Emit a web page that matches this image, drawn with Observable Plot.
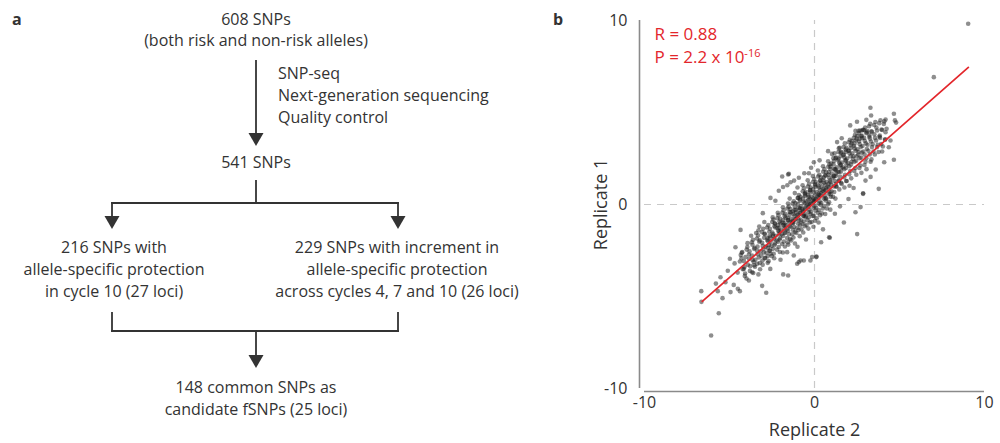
<!DOCTYPE html>
<html>
<head>
<meta charset="utf-8">
<script src="https://cdn.jsdelivr.net/npm/d3@7"></script>
<script src="https://cdn.jsdelivr.net/npm/@observablehq/plot@0.6"></script>
<style>
  html, body { margin: 0; padding: 0; background: #fff; }
  #fig { position: relative; width: 1000px; height: 443px; overflow: hidden; background: #fff; font-family: "Open Sans", sans-serif; color: #333; }
  .panel-label { position: absolute; font-weight: 700; font-size: 16px; color: #333; font-family: "Open Sans", sans-serif; }
  #plotb { position: absolute; left: 560px; top: 0; }
</style>
</head>
<body>
<div id="fig">
  <div class="panel-label" style="left:12px; top:8px;">a</div>
  <div class="panel-label" style="left:553px; top:8px;">b</div>
  <div id="plotb"></div>
</div>
<script>
// ---------- Panel a: flowchart text ----------
const topNode = ["608 SNPs", "(both risk and non-risk alleles)"];
const stepLabels = ["SNP-seq", "Next-generation sequencing", "Quality control"];
const midNode = ["541 SNPs"];
const leftNode = ["216 SNPs with", "allele-specific protection", "in cycle 10 (27 loci)"];
const rightNode = ["229 SNPs with increment in", "allele-specific protection", "across cycles 4, 7 and 10 (26 loci)"];
const bottomNode = ["148 common SNPs as", "candidate fSNPs (25 loci)"];

// ---------- Panel b: data ----------
const xTicks = [-10, 0, 10];
const yTicks = [-10, 0, 10];
const xLabel = "Replicate 2";
const yLabel = "Replicate 1";
const statR = "R = 0.88";
const statP = "P = 2.2 x 10";
const statPExp = "-16";
// regression line end points (Replicate 2, Replicate 1)
const fitX = [-6.6, 9.05];
const fitY = [-5.27, 7.45];
// scatter points [Replicate 2, Replicate 1], read/estimated from the figure
const scatterPoints = [
  [9.04,9.82],[7.02,6.92],[3.29,5.26],[3.33,4.84],[4.67,4.93],[4.73,4.57],[4.8,4.45],[4.08,4.38],[4.18,3.93],[4.47,3.48],
  [4.37,3.11],[4.67,2.43],[3.78,0.85],[2.86,0.61],[3.0,1.3],[2.71,-0.14],[2.41,-0.42],[2.51,-1.61],[1.73,-0.98],[0.9,-1.81],
  [0.39,-2.05],[0.1,-2.86],[-0.24,-3.04],[-0.63,-3.04],[-0.92,-3.13],[-1.02,-3.22],[-1.55,-3.86],[-1.84,-3.8],[-2.84,-4.8],[-3.08,-4.42],
  [-3.86,-4.13],[-4.16,-3.5],[-3.67,-3.68],[-4.06,-2.86],[-4.25,-2.59],[-4.98,-2.95],[-4.65,-2.32],[-4.35,-1.38],[-3.04,-0.47],[-2.59,0.36],
  [-1.9,1.52],[-1.55,1.63],[-1.51,1.67],[-1.41,1.21],[-0.92,1.45],[-0.04,2.3],[-0.33,1.7],[1.33,3.39],[2.41,4.0],[2.59,4.0],
  [2.8,4.02],[3.1,3.99],[2.86,4.06],[3.84,3.75],[-6.66,-4.71],[-6.65,-5.29],[-5.63,-5.91],[-6.08,-7.12],[-5.41,-5.09],[-5.69,-4.71],
  [-5.53,-3.95],[-5.24,-4.22],[-4.94,-4.76],[-4.75,-4.37],[-4.51,-4.58],[-4.39,-4.71],[-3.37,-3.22],[-2.75,-3.17],[-2.59,-2.68],[-1.61,-2.59],
  [-1.22,-2.77],[-0.82,-3.04],[0.12,-2.83],[-0.14,-2.86],[0.86,-1.78],[2.86,0.58],
  [-2.1,0.75],[-1.85,0.95],[-1.6,1.05],[-2.3,0.2],[-1.2,1.3],[-0.6,1.7],[-0.2,2.0],[0.3,2.4],[0.8,2.9],[1.6,3.6],[2.1,4.3],[2.5,4.5],[3.05,4.6],
  [0.5,-1.35],[1.2,-0.5],[1.5,-0.1],[2.0,0.3],[2.3,0.9],[3.3,1.5],[3.6,1.9],[4.1,2.3],[-0.5,-1.9],[-1.0,-2.3],[-2.0,-3.0],[-2.6,-3.5],[-3.3,-3.8],[-4.7,-3.2],[-5.1,-3.6],[-5.8,-4.3],
  [-4.28,-2.62],[-4.15,-3.08],[-4.22,-3.52],[-4.1,-3.88],[-4.3,-2.93],
  [-3.95,-2.31],[-3.86,-2.72],[-3.92,-3.27],[-3.8,-3.61],[-4.0,-4.02],[-3.85,-2.95],
  [-3.62,-1.92],[-3.55,-2.41],[-3.68,-2.78],[-3.58,-3.12],[-3.5,-3.38],[-3.65,-2.19],[-3.6,-3.72],
  [-3.32,-1.68],[-3.25,-2.02],[-3.38,-2.51],[-3.28,-2.88],[-3.22,-3.18],[-3.35,-2.29],[-3.3,-1.41],[-3.2,-3.52],
  [-3.02,-1.32],[-2.96,-1.81],[-3.08,-2.08],[-2.98,-2.61],[-2.92,-2.92],[-3.05,-3.28],[-3.0,-2.42],[-2.94,-1.58],
  [-2.72,-1.12],[-2.66,-1.48],[-2.78,-1.92],[-2.68,-2.21],[-2.62,-2.52],[-2.75,-2.81],[-2.7,-3.08],[-2.64,-1.71],[-2.74,-2.36],
  [-2.42,-0.82],[-2.36,-1.18],[-2.48,-1.52],[-2.38,-1.88],[-2.32,-2.12],[-2.45,-2.41],[-2.4,-2.68],[-2.34,-1.02],[-2.44,-1.71],[-2.37,-2.92],
  [-2.12,-0.58],[-2.06,-0.92],[-2.18,-1.28],[-2.08,-1.61],[-2.02,-1.82],[-2.15,-2.02],[-2.1,-2.31],[-2.04,-2.58],[-2.14,-1.12],[-2.07,-1.46],
  [-1.82,-0.31],[-1.76,-0.62],[-1.88,-0.98],[-1.78,-1.31],[-1.72,-1.52],[-1.85,-1.71],[-1.8,-2.02],[-1.74,-2.28],[-1.84,-0.84],[-1.77,-1.16],[-1.86,-2.61],
  [-1.52,-0.12],[-1.46,-0.41],[-1.58,-0.72],[-1.48,-0.98],[-1.42,-1.21],[-1.55,-1.42],[-1.5,-1.62],[-1.44,-1.88],[-1.54,-2.18],[-1.47,-0.56],[-1.56,-0.86],
  [-1.22,0.18],[-1.16,-0.12],[-1.28,-0.38],[-1.18,-0.62],[-1.12,-0.81],[-1.25,-1.02],[-1.2,-1.22],[-1.14,-1.48],[-1.24,-1.79],[-1.17,-0.29],[-1.26,-0.96],[-1.15,-2.12],
  [-0.92,0.52],[-0.86,0.21],[-0.98,0.02],[-0.88,-0.28],[-0.82,-0.48],[-0.95,-0.71],[-0.9,-0.88],[-0.84,-1.12],[-0.94,-1.38],[-0.87,-1.72],[-0.96,0.36],[-0.85,-0.19],
  [-0.62,0.88],[-0.56,0.61],[-0.68,0.32],[-0.58,0.08],[-0.52,-0.12],[-0.65,-0.31],[-0.6,-0.52],[-0.54,-0.69],[-0.64,-0.92],[-0.57,-1.18],[-0.66,-1.52],[-0.55,0.46],[-0.63,-0.61],
  [-0.32,1.12],[-0.26,0.78],[-0.38,0.52],[-0.28,0.31],[-0.22,0.08],[-0.35,-0.12],[-0.3,-0.28],[-0.24,-0.52],[-0.34,-0.71],[-0.27,-0.98],[-0.36,-1.31],[-0.25,0.66],[-0.33,0.02],
  [-0.02,1.38],[0.04,1.12],[-0.08,0.82],[0.02,0.48],[0.08,0.28],[-0.05,0.12],[0.0,-0.08],[0.06,-0.32],[-0.04,-0.62],[0.03,-0.88],[-0.06,-1.21],[0.05,0.96],[-0.03,0.21],
  [0.28,1.62],[0.34,1.28],[0.22,1.02],[0.32,0.78],[0.38,0.61],[0.25,0.38],[0.3,0.18],[0.36,-0.02],[0.26,-0.31],[0.33,-0.58],[0.24,-0.98],[0.35,1.16],[0.27,0.52],
  [0.58,1.92],[0.64,1.58],[0.52,1.32],[0.62,1.08],[0.68,0.88],[0.55,0.72],[0.6,0.48],[0.66,0.22],[0.56,-0.08],[0.63,-0.52],[0.54,1.46],[0.65,0.34],
  [0.88,2.18],[0.94,1.92],[0.82,1.62],[0.92,1.31],[0.98,1.08],[0.85,0.92],[0.9,0.68],[0.96,0.42],[0.86,0.12],[0.93,-0.28],[0.84,1.76],[0.95,0.56],
  [1.18,2.78],[1.24,2.52],[1.12,2.18],[1.22,1.92],[1.28,1.68],[1.15,1.52],[1.2,1.28],[1.26,0.98],[1.16,0.68],[1.23,0.32],[1.14,2.36],[1.25,1.12],
  [1.48,3.08],[1.54,2.82],[1.42,2.48],[1.52,2.18],[1.58,1.98],[1.45,1.78],[1.5,1.52],[1.56,1.18],[1.46,0.82],[1.53,2.62],[1.44,1.32],
  [1.78,3.32],[1.84,2.98],[1.72,2.72],[1.82,2.42],[1.88,2.18],[1.75,1.92],[1.8,1.62],[1.86,1.28],[1.76,0.92],[1.83,2.86],
  [2.08,3.52],[2.14,3.22],[2.02,2.92],[2.12,2.62],[2.18,2.32],[2.05,2.08],[2.1,1.82],[2.16,1.42],[2.06,1.02],[2.13,3.06],
  [2.38,3.78],[2.44,3.48],[2.32,3.18],[2.42,2.92],[2.48,2.62],[2.35,2.32],[2.4,1.98],[2.46,1.62],[2.36,3.32],
  [2.68,4.02],[2.74,3.72],[2.62,3.42],[2.72,3.12],[2.78,2.82],[2.65,2.52],[2.7,2.12],[2.76,1.72],[2.66,3.58],
  [2.98,4.18],[3.04,3.88],[2.92,3.62],[3.02,3.32],[3.08,3.02],[2.95,2.72],[3.0,2.32],[3.06,1.92],
  [3.28,4.38],[3.34,3.98],[3.22,3.68],[3.32,3.42],[3.38,3.12],[3.25,2.72],[3.3,2.32],
  [3.58,4.48],[3.64,4.18],[3.52,3.82],[3.62,3.48],[3.68,3.12],[3.55,2.72],
  [3.88,4.58],[3.94,4.08],[3.82,3.68],[3.92,3.28],[3.98,2.88],
  [4.18,4.62],[4.24,4.12],[4.15,3.52],
  [-4.39,-3.1],[-4.52,-3.7],[-4.34,-2.75],
  [-3.99,-2.45],[-4.12,-3.4],[-3.94,-2.1],[-4.08,-3.75],
  [-3.69,-2.05],[-3.82,-2.55],[-3.64,-3.02],[-3.78,-3.35],[-3.73,-1.7],
  [-3.39,-1.85],[-3.52,-2.35],[-3.34,-2.7],[-3.48,-3.0],[-3.43,-1.55],[-3.55,-3.3],
  [-3.09,-1.5],[-3.22,-1.95],[-3.04,-2.25],[-3.18,-2.55],[-3.13,-2.78],[-3.25,-1.2],[-3.06,-3.05],
  [-2.79,-1.25],[-2.92,-1.62],[-2.74,-2.0],[-2.88,-2.3],[-2.83,-2.62],[-2.95,-0.95],[-2.76,-1.82],[-2.9,-2.9],
  [-2.49,-0.95],[-2.62,-1.32],[-2.44,-1.62],[-2.58,-2.02],[-2.53,-2.25],[-2.65,-2.5],[-2.46,-0.7],[-2.6,-1.8],[-2.51,-2.8],
  [-2.19,-0.75],[-2.32,-1.05],[-2.14,-1.42],[-2.28,-1.7],[-2.23,-1.95],[-2.35,-2.2],[-2.16,-0.45],[-2.3,-1.25],[-2.21,-2.45],
  [-1.89,-0.45],[-2.02,-0.78],[-1.84,-1.12],[-1.98,-1.42],[-1.93,-1.62],[-2.05,-1.9],[-1.86,-0.15],[-2.0,-1.02],[-1.91,-2.15],[-2.06,-1.25],
  [-1.59,-0.22],[-1.72,-0.52],[-1.54,-0.85],[-1.68,-1.12],[-1.63,-1.35],[-1.75,-1.55],[-1.56,0.05],[-1.7,-0.72],[-1.61,-1.82],[-1.76,-1.02],[-1.57,-2.05],
  [-1.29,0.05],[-1.42,-0.25],[-1.24,-0.52],[-1.38,-0.78],[-1.33,-1.0],[-1.45,-1.18],[-1.26,-1.38],[-1.4,-0.42],[-1.31,-1.62],[-1.46,0.32],[-1.27,-0.88],[-1.37,-1.95],
  [-0.99,0.35],[-1.12,0.08],[-0.94,-0.18],[-1.08,-0.42],[-1.03,-0.62],[-1.15,-0.82],[-0.96,-1.05],[-1.1,-0.3],[-1.01,-1.28],[-1.16,0.62],[-0.97,-0.55],[-1.07,-1.55],[-1.0,0.92],
  [-0.69,0.72],[-0.82,0.42],[-0.64,0.15],[-0.78,-0.08],[-0.73,-0.25],[-0.85,-0.45],[-0.66,-0.62],[-0.8,-0.85],[-0.71,-1.05],[-0.86,0.28],[-0.67,-0.38],[-0.77,-1.35],[-0.7,1.05],
  [-0.39,0.98],[-0.52,0.68],[-0.34,0.42],[-0.48,0.18],[-0.43,-0.02],[-0.55,-0.22],[-0.36,-0.42],[-0.5,-0.62],[-0.41,-0.85],[-0.56,0.55],[-0.37,0.25],[-0.47,-1.12],[-0.4,1.32],
  [-0.09,1.22],[-0.22,0.92],[-0.04,0.65],[-0.18,0.42],[-0.13,0.22],[-0.25,0.02],[-0.06,-0.18],[-0.2,-0.4],[-0.11,-0.62],[-0.26,0.78],[-0.07,0.32],[-0.17,-0.95],[-0.1,1.55],
  [0.21,1.52],[0.08,1.22],[0.26,0.92],[0.12,0.68],[0.17,0.45],[0.05,0.25],[0.24,0.05],[0.1,-0.18],[0.19,-0.45],[0.04,1.05],[0.23,0.58],[0.13,-0.75],[0.2,1.85],
  [0.51,1.78],[0.38,1.48],[0.56,1.18],[0.42,0.95],[0.47,0.72],[0.35,0.52],[0.54,0.32],[0.4,0.08],[0.49,-0.22],[0.34,1.32],[0.53,0.85],[0.43,-0.48],[0.5,2.08],
  [0.81,2.05],[0.68,1.75],[0.86,1.45],[0.72,1.22],[0.77,0.98],[0.65,0.78],[0.84,0.58],[0.7,0.32],[0.79,0.02],[0.64,1.58],[0.83,1.12],[0.73,-0.22],[0.8,2.35],
  [1.11,2.52],[0.98,2.22],[1.16,1.92],[1.02,1.68],[1.07,1.45],[0.95,1.22],[1.14,0.98],[1.0,0.72],[1.09,0.42],[0.94,2.05],[1.13,1.55],[1.03,2.75],
  [1.41,2.85],[1.28,2.55],[1.46,2.25],[1.32,2.02],[1.37,1.78],[1.25,1.55],[1.44,1.28],[1.3,0.98],[1.39,2.4],[1.24,1.88],[1.43,3.05],
  [1.71,3.12],[1.58,2.85],[1.76,2.55],[1.62,2.28],[1.67,2.02],[1.55,1.78],[1.74,1.48],[1.6,1.12],[1.69,2.68],[1.54,2.15],
  [2.01,3.38],[1.88,3.08],[2.06,2.78],[1.92,2.5],[1.97,2.25],[1.85,1.98],[2.04,1.65],[1.9,1.28],[1.99,2.92],[1.84,2.38],
  [2.31,3.62],[2.18,3.32],[2.36,3.05],[2.22,2.78],[2.27,2.48],[2.15,2.18],[2.34,1.82],[2.2,3.45],[2.29,2.62],
  [2.61,3.88],[2.48,3.58],[2.66,3.28],[2.52,3.0],[2.57,2.72],[2.45,2.38],[2.64,1.98],[2.5,3.72],[2.59,2.85],
  [2.91,4.05],[2.78,3.75],[2.96,3.45],[2.82,3.18],[2.87,2.88],[2.75,2.55],[2.94,2.15],[2.8,3.6],
  [3.21,4.25],[3.08,3.92],[3.26,3.58],[3.12,3.25],[3.17,2.92],[3.05,2.52],[3.24,3.78],
  [3.51,4.32],[3.38,3.95],[3.56,3.62],[3.42,3.28],[3.47,2.88],[3.35,2.45],
  [3.81,4.42],[3.68,4.02],[3.86,3.62],[3.72,3.25],[3.77,2.85],
  [4.11,4.52],[3.98,4.05],[4.16,3.55],[4.02,3.15]
];

// ---------- Draw panel a (flowchart) ----------
const ink = "#333";
const svgA = d3.select("#fig").insert("svg", ":first-child")
  .attr("width", 560).attr("height", 443)
  .style("position", "absolute").style("left", "0px").style("top", "0px")
  .style("font-family", "'Open Sans', sans-serif").style("font-size", "16px");

function block(lines, cx, y0, lh, anchor = "middle") {
  lines.forEach((t, i) => {
    svgA.append("text").attr("x", cx).attr("y", y0 + i * lh)
      .attr("text-anchor", anchor).attr("dominant-baseline", "central")
      .attr("fill", ink).text(t);
  });
}
function seg(x1, y1, x2, y2) {
  svgA.append("line").attr("x1", x1).attr("y1", y1).attr("x2", x2).attr("y2", y2)
    .attr("stroke", ink).attr("stroke-width", 1.8).attr("stroke-linecap", "square");
}
function head(x, tipY) {
  svgA.append("path").attr("d", `M${x - 7.5},${tipY - 13}L${x + 7.5},${tipY - 13}L${x},${tipY}Z`).attr("fill", ink);
}

block(topNode, 256, 19, 21);
seg(256, 61, 256, 134); head(256, 146);
block(stepLabels, 278, 73, 22, "start");
block(midNode, 256, 162, 21);
seg(256, 181, 256, 203);
seg(112, 203, 398, 203);
seg(112, 203, 112, 217); head(112, 229);
seg(398, 203, 398, 217); head(398, 229);
block(leftNode, 114, 247, 21.8);
block(rightNode, 397, 247, 21.8);
seg(112, 313, 112, 331);
seg(398, 313, 398, 331);
seg(112, 331, 398, 331);
seg(256, 331, 256, 356); head(256, 368);
block(bottomNode, 256, 387, 21.5);

// ---------- Draw panel b (scatter) ----------
const red = "#e3262b";
const axisGray = "#8a8a8a";
const chart = Plot.plot({
  width: 440,
  height: 443,
  marginLeft: 84,
  marginRight: 16,
  marginTop: 20,
  marginBottom: 55,
  style: { fontFamily: "'Open Sans', sans-serif", fontSize: "16px", color: "#333", background: "transparent" },
  x: { domain: [-10, 10] },
  y: { domain: [-10, 10] },
  marks: [
    Plot.ruleX([0], { y1: -10, y2: 10, stroke: "#c9c9c9", strokeWidth: 1.2, strokeDasharray: "7,6" }),
    Plot.ruleY([0], { x1: -10, x2: 10, stroke: "#c9c9c9", strokeWidth: 1.2, strokeDasharray: "7,6" }),
    Plot.ruleX([-10], { y1: -10, y2: 10, dx: -5, stroke: axisGray, strokeWidth: 1.6 }),
    Plot.ruleY([-10], { x1: -10, x2: 10, dy: 3, stroke: axisGray, strokeWidth: 1.6 }),
    Plot.axisX({ ticks: xTicks, tickSize: 0, tickPadding: 8, tickFormat: d => `${d}`, label: null, fontSize: 16 }),
    Plot.axisY({ ticks: yTicks, tickSize: 0, tickPadding: 17, tickFormat: d => `${d}`, label: null, fontSize: 16 }),
    Plot.text([xLabel], { frameAnchor: "bottom", lineAnchor: "middle", dy: 42, fontSize: 18, fill: "#333" }),
    Plot.text([yLabel], { frameAnchor: "left", textAnchor: "middle", lineAnchor: "middle", rotate: -90, dx: -43, fontSize: 18, fill: "#333" }),
    Plot.dot(scatterPoints, { x: d => d[0], y: d => d[1], r: 2.3, fill: "#1e1e1e", fillOpacity: 0.5, stroke: "none" }),
    Plot.line(fitX.map((x, i) => ({ x, y: fitY[i] })), { x: "x", y: "y", stroke: red, strokeWidth: 1.7 }),
    Plot.text([statR], { frameAnchor: "top-left", lineAnchor: "middle", dx: 10, dy: 14, fontSize: 17, fill: red }),
    Plot.text([statP], { frameAnchor: "top-left", lineAnchor: "middle", dx: 10, dy: 37, fontSize: 17, fill: red })
  ]
});
document.getElementById("plotb").appendChild(chart);

// superscript exponent for the P value
d3.select(chart).selectAll("text")
  .filter(function () { return this.textContent === statP; })
  .append("tspan").attr("dy", "-0.55em").attr("font-size", 11).text(statPExp);
</script>
</body>
</html>
